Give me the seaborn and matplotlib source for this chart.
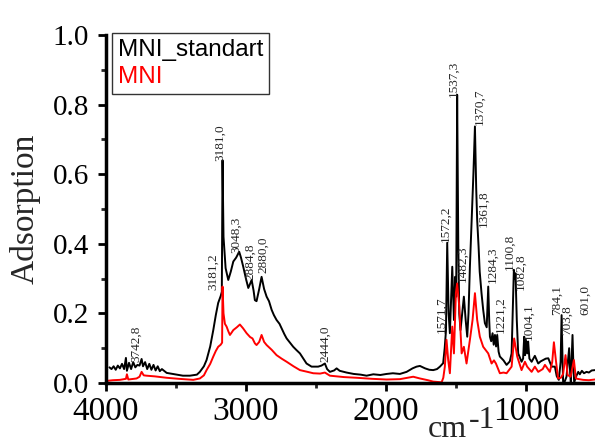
import numpy as np
import pandas as pd
import matplotlib
matplotlib.use("Agg")
import matplotlib.pyplot as plt
import seaborn as sns

# IR spectra (wavenumber, adsorption)
std_wn = [3975, 3960, 3945, 3930, 3915, 3900, 3885, 3870, 3857, 3850, 3835, 3820, 3805, 3790,
          3775, 3760, 3745, 3735, 3720, 3705, 3690, 3675, 3660, 3645, 3630, 3615, 3600, 3566,
          3520, 3450, 3400, 3350, 3329, 3300, 3281, 3255, 3233, 3215, 3198, 3180, 3172, 3167,
          3160, 3145, 3126, 3108, 3090, 3070, 3048, 3035, 3019, 3000, 2983, 2970, 2959, 2945,
          2936, 2924, 2905, 2888, 2870, 2852, 2835, 2816, 2800, 2781, 2760, 2745, 2725, 2709,
          2690, 2662, 2640, 2614, 2590, 2567, 2531, 2484, 2460, 2436, 2420, 2400, 2370, 2352,
          2330, 2281, 2230, 2180, 2138, 2090, 2040, 1995, 1950, 1900, 1852, 1810, 1781, 1757,
          1720, 1690, 1662, 1635, 1614, 1591, 1580, 1571, 1562, 1552, 1543, 1526, 1514, 1505,
          1498, 1491, 1483, 1476, 1467, 1455, 1443, 1430, 1419, 1410, 1400, 1388, 1375, 1364,
          1355, 1348, 1338, 1330, 1317, 1305, 1293, 1280, 1269, 1262, 1257, 1248, 1238, 1230,
          1221, 1213, 1205, 1195, 1186, 1160, 1138, 1115, 1102, 1094, 1086, 1080, 1074, 1065,
          1055, 1031, 1020, 1012, 1006, 1000, 991, 984, 975, 959, 936, 912, 895, 876, 858, 840,
          816, 793, 780, 765, 752, 745, 738, 734, 722, 710, 691, 684, 679, 667, 660, 655, 640,
          626, 615, 600, 585, 567, 550, 530, 508]
std_abs = [0.045, 0.040, 0.048, 0.038, 0.050, 0.042, 0.055, 0.040, 0.072, 0.035, 0.058, 0.040,
           0.060, 0.045, 0.052, 0.050, 0.069, 0.048, 0.060, 0.040, 0.055, 0.038, 0.052, 0.036,
           0.048, 0.034, 0.040, 0.029, 0.026, 0.021, 0.021, 0.024, 0.032, 0.048, 0.066, 0.105,
           0.152, 0.195, 0.230, 0.250, 0.262, 0.640, 0.420, 0.330, 0.296, 0.320, 0.349, 0.360,
           0.377, 0.360, 0.334, 0.300, 0.273, 0.285, 0.296, 0.265, 0.238, 0.235, 0.270, 0.305,
           0.270, 0.248, 0.235, 0.210, 0.195, 0.181, 0.170, 0.157, 0.140, 0.128, 0.118, 0.104,
           0.095, 0.085, 0.070, 0.056, 0.047, 0.047, 0.050, 0.056, 0.040, 0.032, 0.036, 0.042,
           0.035, 0.030, 0.026, 0.024, 0.021, 0.025, 0.023, 0.026, 0.028, 0.026, 0.032, 0.042,
           0.047, 0.049, 0.042, 0.038, 0.037, 0.040, 0.047, 0.057, 0.100, 0.150, 0.403, 0.200,
           0.143, 0.334, 0.181, 0.305, 0.248, 0.828, 0.400, 0.200, 0.152, 0.200, 0.248, 0.180,
           0.133, 0.200, 0.334, 0.460, 0.600, 0.737, 0.560, 0.468, 0.392, 0.320, 0.258, 0.210,
           0.172, 0.160, 0.277, 0.180, 0.133, 0.120, 0.143, 0.110, 0.138, 0.105, 0.138, 0.090,
           0.076, 0.065, 0.052, 0.062, 0.085, 0.200, 0.325, 0.300, 0.315, 0.180, 0.085, 0.061,
           0.070, 0.133, 0.080, 0.124, 0.085, 0.119, 0.070, 0.061, 0.078, 0.056, 0.062, 0.066,
           0.070, 0.071, 0.047, 0.047, 0.020, 0.009, 0.060, 0.195, 0.060, 0.002, 0.005, 0.018,
           0.100, 0.030, 0.002, 0.138, 0.040, 0.002, 0.020, 0.032, 0.025, 0.035, 0.028, 0.032,
           0.030, 0.036, 0.037]

mni_wn = [3995, 3950, 3900, 3857, 3850, 3840, 3800, 3781, 3760, 3745, 3730, 3710, 3650, 3567,
          3480, 3376, 3329, 3300, 3281, 3255, 3233, 3215, 3198, 3180, 3170, 3167, 3160, 3150,
          3138, 3125, 3114, 3100, 3090, 3065, 3043, 3020, 2995, 2970, 2953, 2936, 2924, 2905,
          2888, 2870, 2852, 2815, 2781, 2745, 2709, 2660, 2614, 2560, 2519, 2470, 2436, 2400,
          2300, 2210, 2100, 1995, 1900, 1805, 1757, 1700, 1662, 1602, 1590, 1579, 1567, 1555,
          1543, 1526, 1514, 1500, 1491, 1476, 1459, 1443, 1424, 1400, 1381, 1364, 1348, 1329,
          1305, 1269, 1245, 1228, 1214, 1186, 1160, 1138, 1102, 1084, 1062, 1031, 1007, 991,
          959, 936, 912, 880, 864, 829, 812, 800, 786, 770, 750, 734, 717, 702, 681, 657, 643,
          620, 591, 550, 508]
mni_abs = [0.006, 0.008, 0.009, 0.012, 0.025, 0.010, 0.012, 0.013, 0.018, 0.032, 0.022, 0.021,
           0.019, 0.015, 0.012, 0.009, 0.013, 0.022, 0.037, 0.055, 0.076, 0.092, 0.104, 0.110,
           0.116, 0.277, 0.200, 0.170, 0.162, 0.148, 0.138, 0.146, 0.152, 0.160, 0.168, 0.157,
           0.143, 0.132, 0.128, 0.114, 0.109, 0.118, 0.138, 0.118, 0.109, 0.095, 0.080, 0.070,
           0.061, 0.048, 0.037, 0.032, 0.028, 0.027, 0.030, 0.021, 0.017, 0.015, 0.012, 0.010,
           0.011, 0.018, 0.013, 0.008, 0.004, 0.002, 0.015, 0.047, 0.124, 0.066, 0.028, 0.162,
           0.085, 0.258, 0.286, 0.220, 0.085, 0.104, 0.056, 0.124, 0.181, 0.258, 0.181, 0.133,
           0.104, 0.085, 0.056, 0.065, 0.056, 0.028, 0.030, 0.028, 0.047, 0.128, 0.076, 0.037,
           0.061, 0.047, 0.032, 0.047, 0.032, 0.040, 0.052, 0.032, 0.060, 0.117, 0.066, 0.013,
           0.015, 0.026, 0.080, 0.023, 0.018, 0.066, 0.013, 0.011, 0.009, 0.008, 0.010]

# peak labels: text, x (wavenumber), y (bottom of the text)
peak_text = ["3742,8", "3181,2", "3181,0", "3048,3", "2884,8", "2880,0", "2444,0", "1571,7",
             "1572,2", "1537,3", "1482,3", "1370,7", "1361,8", "1284,3", "1221,2", "1100,8",
             "1082,8", "1004,1", "784,1", "703,8", "601,0"]
peak_x = [3781, 3234, 3186, 3071, 2966, 2876, 2436, 1602, 1574, 1514, 1455, 1333, 1305, 1238,
          1179, 1114, 1038, 979, 777, 710, 579]
peak_y = [0.061, 0.267, 0.639, 0.373, 0.296, 0.316, 0.061, 0.143, 0.406, 0.823, 0.291, 0.741,
          0.449, 0.287, 0.143, 0.325, 0.267, 0.124, 0.195, 0.138, 0.195]

df = pd.concat([
    pd.DataFrame({"wn": std_wn, "A": std_abs, "sample": "MNI_standart"}),
    pd.DataFrame({"wn": mni_wn, "A": mni_abs, "sample": "MNI"}),
])

sns.set_style("ticks")
plt.rcParams["font.family"] = ["Liberation Serif", "DejaVu Serif"]

fig = plt.figure(figsize=(5.95, 4.44), dpi=100)
ax = fig.add_axes([0.178, 0.1374, 0.8235, 0.784])

sns.lineplot(data=df, x="wn", y="A", hue="sample", estimator=None,
             palette={"MNI_standart": "black", "MNI": "red"}, linewidth=1.4,
             ax=ax, legend=False)

for t, x, y in zip(peak_text, peak_x, peak_y):
    ax.text(x, y, t, rotation=90, ha="center", va="bottom", fontsize=9.5)

ax.set_xlim(4000, 500)
ax.set_ylim(0, 1.0)
ax.set_xticks([4000, 3000, 2000, 1000])
ax.set_xticks([3500, 2500, 1500, 500], minor=True)
ax.set_yticks([0.0, 0.2, 0.4, 0.6, 0.8, 1.0])
ax.set_yticks([0.1, 0.3, 0.5, 0.7, 0.9], minor=True)
ax.set_yticklabels(["0.0", "0.2", "0.4", "0.6", "0.8", "1.0"])
ax.tick_params(axis="both", which="major", width=2, length=6, direction="out", colors="black")
ax.tick_params(axis="both", which="minor", width=2, length=3.5, direction="out")
ax.tick_params(axis="x", which="major", labelsize=24, pad=4)
ax.tick_params(axis="y", which="major", labelsize=21, pad=6)

for s in ["top", "right"]:
    ax.spines[s].set_visible(False)
for s in ["left", "bottom"]:
    ax.spines[s].set_linewidth(2.5)
    ax.spines[s].set_color("black")

ax.set_xlabel("")
ax.set_ylabel("Adsorption", fontsize=24, labelpad=9)

# x label "cm-1" with a raised, full-size "-1"
fig.text(428 / 595, 1 - 437 / 444, "cm", fontsize=23, ha="left", va="baseline")
fig.text(469 / 595, 1 - 428 / 444, "-1", fontsize=23, ha="left", va="baseline")

# legend: colored text only, square frame
handles = [plt.Line2D([], [], color="black"), plt.Line2D([], [], color="red")]
leg = ax.legend(handles, ["MNI_standart", "MNI"], loc="upper left",
                bbox_to_anchor=(0.012, 1.006), handlelength=0, handletextpad=0,
                frameon=True, fancybox=False, borderaxespad=0, borderpad=0.25,
                labelspacing=0.2, prop={"family": "Liberation Sans", "size": 17.5})
leg.get_frame().set_edgecolor("black")
leg.get_frame().set_linewidth(1)
for txt, c in zip(leg.get_texts(), ["black", "red"]):
    txt.set_color(c)
for h in leg.legend_handles:
    h.set_visible(False)

fig.savefig("out.png", dpi=100)
